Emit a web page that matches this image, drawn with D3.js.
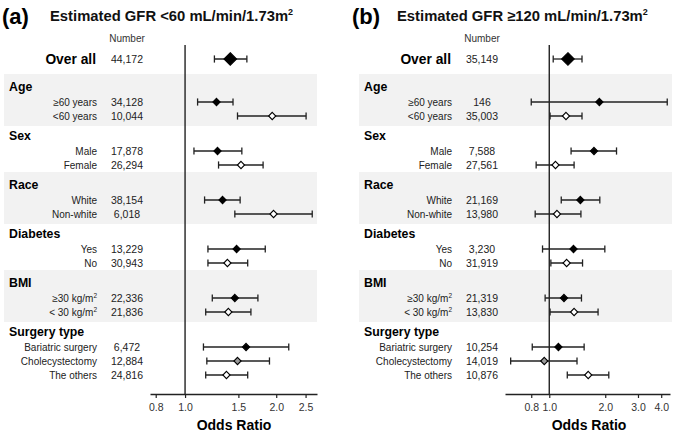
<!DOCTYPE html>
<html>
<head>
<meta charset="utf-8">
<script src="https://cdn.jsdelivr.net/npm/d3@7"></script>
<style>
  body { margin: 0; background: #fff; }
  svg text { font-family: "Liberation Sans", Arial, sans-serif; }
</style>
</head>
<body>
<svg id="chart" width="675" height="432"></svg>
<script>
// groups and rows (same in both panels)
const groups = ["Age", "Sex", "Race", "Diabetes", "BMI", "Surgery type"];
const subgroups = [
    ["≥60 years", "<60 years"],
    ["Male", "Female"],
    ["White", "Non-white"],
    ["Yes", "No"],
    ["≥30 kg/m²", "< 30 kg/m²"],
    ["Bariatric surgery", "Cholecystectomy", "The others"]
];

// panel (a): eGFR <60, first value = over all, then rows in order
const numbersA = ["44,172", "34,128", "10,044", "17,878", "26,294", "38,154", "6,018",
    "13,229", "30,943", "22,336", "21,836", "6,472", "12,884", "24,816"];
const orA   = [1.41, 1.27, 1.94, 1.28, 1.53, 1.33, 1.96, 1.48, 1.38, 1.46, 1.39, 1.59, 1.49, 1.37];
const lowA  = [1.25, 1.10, 1.49, 1.07, 1.29, 1.16, 1.46, 1.19, 1.19, 1.23, 1.17, 1.15, 1.18, 1.17];
const highA = [1.60, 1.44, 2.51, 1.54, 1.81, 1.52, 2.63, 1.84, 1.61, 1.74, 1.65, 2.20, 1.90, 1.61];
const ticksA = [0.8, 1.0, 1.5, 2.0, 2.5];

// panel (b): eGFR >=120
const numbersB = ["35,149", "146", "35,003", "7,588", "27,561", "21,169", "13,980",
    "3,230", "31,919", "21,319", "13,830", "10,254", "14,019", "10,876"];
const orB   = [1.26, 1.86, 1.23, 1.74, 1.08, 1.47, 1.10, 1.35, 1.24, 1.20, 1.36, 1.12, 0.94, 1.62];
const lowB  = [1.05, 0.80, 1.01, 1.31, 0.85, 1.16, 0.84, 0.92, 1.02, 0.95, 1.01, 0.81, 0.62, 1.25];
const highB = [1.50, 4.31, 1.50, 2.30, 1.36, 1.87, 1.48, 1.99, 1.51, 1.49, 1.83, 1.54, 1.41, 2.09];
const ticksB = [0.8, 1.0, 2.0, 3.0, 4.0];

const svg = d3.select("#chart");
const boldFont = "Lato, 'Open Sans', sans-serif";

// row layout
const yGroup = d3.scaleLinear().domain([0, groups.length - 1]).range([102, 347]);
const rowStep = 14;
const overallY = 59;
const axisY = 394;
const fills = { 2: ["#000", "#fff"], 3: ["#000", "#999", "#fff"] };

// put a ² as superscript tspan
function addLabel(sel, str) {
    let parts = str.split("²");
    sel.append("tspan").text(parts[0]);
    if (parts.length > 1) {
        sel.append("tspan").attr("font-size", "6.5px").attr("dy", "-4").text("2");
        if (parts[1]) sel.append("tspan").attr("dy", "4").text(parts[1]);
    }
}

function diamond(r) {
    return `M0,${-r}L${r},0L0,${r}L${-r},0Z`;
}

function drawPanel(cfg) {
    let g = svg.append("g");
    let off = cfg.offset;

    let x = d3.scaleLog().domain(cfg.domain).range(cfg.range);

    // rows
    let rows = [];
    let k = 1;
    groups.forEach((name, gi) => {
        subgroups[gi].forEach((lab, j) => {
            rows.push({
                label: lab, gi: gi, y: yGroup(gi) + j * rowStep,
                fill: fills[subgroups[gi].length][j],
                n: cfg.numbers[k], or: cfg.or[k], lo: cfg.low[k], hi: cfg.high[k]
            });
            k++;
        });
    });

    // shaded bands for every other group
    groups.forEach((name, gi) => {
        if (gi % 2 == 0) {
            let n = subgroups[gi].length;
            g.append("rect")
                .attr("x", 4 + off)
                .attr("width", 313)
                .attr("y", yGroup(gi) - 28)
                .attr("height", 52 + (n - 2) * rowStep)
                .attr("fill", "#f2f2f2");
        }
    });

    // titles
    g.append("text")
        .attr("x", cfg.tagX).attr("y", 24)
        .attr("font-family", boldFont).attr("font-weight", 700)
        .attr("font-size", "22px")
        .text(cfg.tag);
    let t = g.append("text")
        .attr("x", cfg.titleX).attr("y", 20.5)
        .attr("font-weight", 700).attr("font-size", "14.8px")
        .attr("fill", "#111");
    t.append("tspan").text(cfg.title);
    t.append("tspan").attr("font-size", "9px").attr("dy", "-6").text("2");

    g.append("text")
        .attr("x", 127 + off).attr("y", 38).attr("dy", "0.35em")
        .attr("text-anchor", "middle").attr("font-size", "10px").attr("fill", "#333")
        .text("Number");

    // over all row
    g.append("text")
        .attr("x", 96 + off).attr("y", overallY).attr("dy", "0.35em")
        .attr("text-anchor", "end")
        .attr("font-family", boldFont).attr("font-weight", 700).attr("font-size", "13.8px")
        .text("Over all");
    g.append("text")
        .attr("x", 127 + off).attr("y", overallY).attr("dy", "0.35em")
        .attr("text-anchor", "middle").attr("font-size", "10.5px").attr("fill", "#222")
        .text(cfg.numbers[0]);

    // group headers
    g.selectAll(".hdr").data(groups).enter()
        .append("text")
        .attr("class", "hdr")
        .attr("x", 9 + off)
        .attr("y", (d, i) => yGroup(i) - 15)
        .attr("dy", "0.35em")
        .attr("font-family", boldFont).attr("font-weight", 700).attr("font-size", "12.3px")
        .text(d => d);

    // row labels and numbers
    g.selectAll(".lab").data(rows).enter()
        .append("text")
        .attr("class", "lab")
        .attr("x", 97 + off).attr("y", d => d.y).attr("dy", "0.35em")
        .attr("text-anchor", "end").attr("font-size", "10px").attr("fill", "#222")
        .each(function(d) { addLabel(d3.select(this), d.label); });

    g.selectAll(".num").data(rows).enter()
        .append("text")
        .attr("class", "num")
        .attr("x", 127 + off).attr("y", d => d.y).attr("dy", "0.35em")
        .attr("text-anchor", "middle").attr("font-size", "10.5px").attr("fill", "#222")
        .text(d => d.n);

    // reference line at OR = 1
    g.append("line")
        .attr("x1", x(1)).attr("x2", x(1))
        .attr("y1", 45).attr("y2", axisY)
        .attr("stroke", "#222").attr("stroke-width", 1.4);

    // axis
    let axis = g.append("g")
        .attr("transform", `translate(0,${axisY})`)
        .call(d3.axisBottom(x).tickValues(cfg.ticks).tickFormat(d3.format(".1f"))
            .tickSize(4).tickSizeOuter(0).tickPadding(6));
    axis.select(".domain").attr("stroke", "#222").attr("stroke-width", 1.5);
    axis.selectAll(".tick line").attr("stroke", "#222").attr("stroke-width", 1.2);
    axis.selectAll(".tick text")
        .attr("font-family", "'Liberation Sans', Arial, sans-serif")
        .attr("font-size", "10.5px").attr("fill", "#333");

    g.append("text")
        .attr("x", cfg.oddsX).attr("y", 425).attr("dy", "0.35em")
        .attr("text-anchor", "middle")
        .attr("font-family", boldFont).attr("font-weight", 700).attr("font-size", "14px")
        .text("Odds Ratio");

    // CI lines + markers
    let all = [{ y: overallY, or: cfg.or[0], lo: cfg.low[0], hi: cfg.high[0], fill: "#000", big: true }]
        .concat(rows);
    let ci = g.selectAll(".ci").data(all).enter().append("g").attr("class", "ci");
    ci.append("line")
        .attr("x1", d => x(d.lo)).attr("x2", d => x(d.hi))
        .attr("y1", d => d.y).attr("y2", d => d.y)
        .attr("stroke", "#222").attr("stroke-width", 1.3);
    ci.append("line")
        .attr("x1", d => x(d.lo)).attr("x2", d => x(d.lo))
        .attr("y1", d => d.y - 3.6).attr("y2", d => d.y + 3.6)
        .attr("stroke", "#222").attr("stroke-width", 1.3);
    ci.append("line")
        .attr("x1", d => x(d.hi)).attr("x2", d => x(d.hi))
        .attr("y1", d => d.y - 3.6).attr("y2", d => d.y + 3.6)
        .attr("stroke", "#222").attr("stroke-width", 1.3);
    ci.append("path")
        .attr("transform", d => `translate(${x(d.or)},${d.y})`)
        .attr("d", d => diamond(d.big ? 6.3 : 3.6))
        .attr("fill", d => d.fill)
        .attr("stroke", "#000").attr("stroke-width", 1.1);
}

drawPanel({
    offset: 0, tag: "(a)", tagX: 2, title: "Estimated GFR <60 mL/min/1.73m", titleX: 50,
    domain: [0.766, 2.727], range: [150, 317], ticks: ticksA, oddsX: 234,
    numbers: numbersA, or: orA, low: lowA, high: highA
});
drawPanel({
    offset: 355, tag: "(b)", tagX: 352, title: "Estimated GFR ≥120 mL/min/1.73m", titleX: 397,
    domain: [0.578, 4.46], range: [505, 670], ticks: ticksB, oddsX: 589,
    numbers: numbersB, or: orB, low: lowB, high: highB
});
</script>
</body>
</html>
